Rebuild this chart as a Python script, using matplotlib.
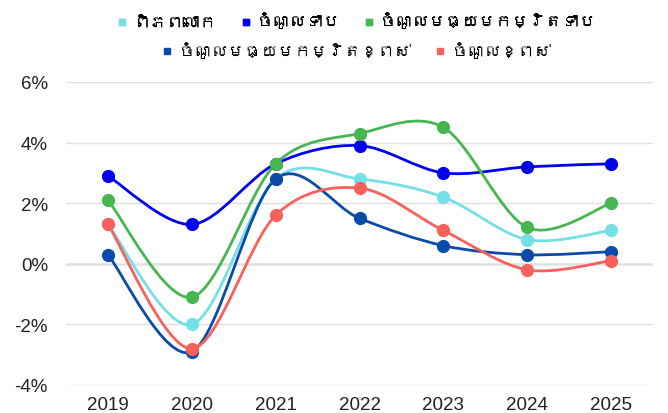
import matplotlib
matplotlib.use("Agg")
import matplotlib.pyplot as plt
from matplotlib import font_manager
from matplotlib.path import Path
from matplotlib.patches import PathPatch
from matplotlib.lines import Line2D
from matplotlib.ticker import FuncFormatter, MultipleLocator
import numpy as np

years = ["2019", "2020", "2021", "2022", "2023", "2024", "2025"]
series_names = ["ពិភពលោក", "ចំណូលទាប", "ចំណូលមធ្យមកម្រិតទាប",
                "ចំណូលមធ្យមកម្រិតខ្ពស់", "ចំណូលខ្ពស់"]
world = [1.3, -2.0, 2.8, 2.8, 2.2, 0.8, 1.1]
low_income = [2.9, 1.3, 3.3, 3.9, 3.0, 3.2, 3.3]
lower_middle = [2.1, -1.1, 3.3, 4.3, 4.5, 1.2, 2.0]
upper_middle = [0.3, -2.9, 2.8, 1.5, 0.6, 0.3, 0.4]
high_income = [1.3, -2.8, 1.6, 2.5, 1.1, -0.2, 0.1]
colors = ["#74e0e6", "#0000ee", "#47b650", "#0a4aa8", "#f8615b"]

# find a font with Khmer glyphs, if any
khmer_family = None
try:
    from matplotlib.ft2font import FT2Font
    for fe in font_manager.fontManager.ttflist:
        try:
            f = FT2Font(fe.fname)
            cm = f.get_charmap()
            if 0x1780 in cm and 0x17D2 in cm:
                khmer_family = fe.name
                break
        except Exception:
            pass
except Exception:
    pass

fams = ["Liberation Sans", "DejaVu Sans"]
legend_fams = ([khmer_family] if khmer_family else []) + fams
plt.rcParams["font.family"] = fams

fig = plt.figure(figsize=(6.68, 4.14), dpi=100)
ax = fig.add_axes([66 / 668, 28 / 414, 587 / 668, 303 / 414])

data = [world, low_income, lower_middle, upper_middle, high_income]
x = np.arange(len(years))


def smooth_path(xs, ys, k=0.35):
    verts = [(xs[0], ys[0])]
    codes = [Path.MOVETO]
    n = len(xs)
    for i in range(n - 1):
        x0, y0 = xs[max(i - 1, 0)], ys[max(i - 1, 0)]
        x1, y1 = xs[i], ys[i]
        x2, y2 = xs[i + 1], ys[i + 1]
        x3, y3 = xs[min(i + 2, n - 1)], ys[min(i + 2, n - 1)]
        c1 = (x1 + (x2 - x0) * k / 2, y1 + (y2 - y0) * k / 2)
        c2 = (x2 - (x3 - x1) * k / 2, y2 - (y3 - y1) * k / 2)
        verts += [c1, c2, (x2, y2)]
        codes += [Path.CURVE4] * 3
    return Path(verts, codes)


handles = []
for vals, col, name in zip(data, colors, series_names):
    p = smooth_path(list(x), list(vals), k=0.32)
    ax.add_patch(PathPatch(p, facecolor="none", edgecolor=col, lw=2.0,
                           zorder=3, capstyle="round", joinstyle="round"))
    ax.plot(x, vals, linestyle="none", marker="o", markersize=8.5,
            color=col, zorder=4)
    handles.append(Line2D([], [], linestyle="none", marker="s",
                          markersize=5, color=col, label=name))

ax.set_xlim(-0.5, 6.5)
ax.set_ylim(-4, 6)
ax.yaxis.set_major_locator(MultipleLocator(2))
ax.yaxis.set_major_formatter(FuncFormatter(lambda v, _: f"{v:.0f}%"))
ax.set_xticks(x)
ax.set_xticklabels(years)
for s in ax.spines.values():
    s.set_visible(False)
ax.grid(axis="y", color="#e0e0e0", lw=1.0, zorder=0)
ax.axhline(0, color="#999999", lw=1.0, zorder=1)
ax.tick_params(axis="both", length=0, labelsize=13.5, colors="#222222")
ax.tick_params(axis="y", pad=13)
ax.tick_params(axis="x", pad=8)

lp = dict(frameon=False, handlelength=0.6, handletextpad=0.4,
          columnspacing=1.4, prop={"family": legend_fams, "size": 12},
          borderaxespad=0)
leg1 = fig.legend(handles=handles[:3], ncol=3, loc="center",
                  bbox_to_anchor=(357 / 668, 1 - 22 / 414), **lp)
fig.add_artist(leg1)
leg2 = fig.legend(handles=handles[3:], ncol=2, loc="center",
                  bbox_to_anchor=(357 / 668, 1 - 51 / 414), **lp)

fig.savefig("out.png", dpi=100)
